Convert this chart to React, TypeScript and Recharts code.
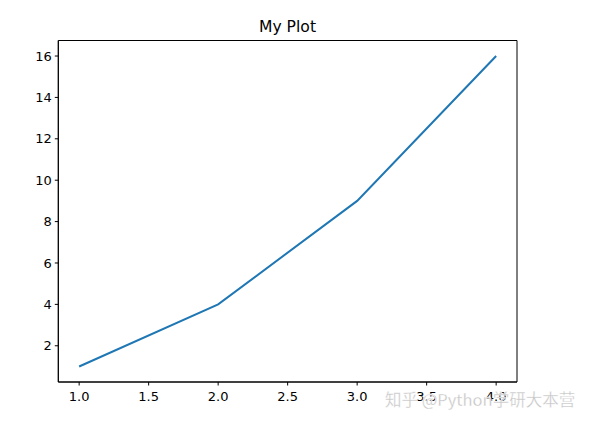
import React from "react";
import { LineChart, Line, XAxis, YAxis, ReferenceArea } from "recharts";

const xValues = [1, 2, 3, 4];
const yValues = [1, 4, 9, 16];
const xTicks = [1.0, 1.5, 2.0, 2.5, 3.0, 3.5, 4.0];
const yTicks = [2, 4, 6, 8, 10, 12, 14, 16];
const title = "My Plot";
const watermark = "知乎 @Python学研大本营";

const data = xValues.map((x, i) => ({ x, y: yValues[i] }));

const FONT = "'DejaVu Sans', sans-serif";
const tickStyle = { fontSize: 13, fill: "#000", fontFamily: FONT };
const X_DOMAIN: [number, number] = [0.85, 4.15];
const Y_DOMAIN: [number, number] = [0.25, 16.75];

export default function App() {
  return (
    <div style={{ position: "absolute", left: 0, top: 0, width: 600, height: 424, background: "#fff" }}>
      <div
        style={{
          position: "absolute",
          left: 187.5,
          width: 200,
          top: 17,
          textAlign: "center",
          fontSize: 15.6,
          lineHeight: "20px",
          fontFamily: FONT,
          color: "#000",
        }}
      >
        {title}
      </div>
      <LineChart
        width={600}
        height={424}
        data={data}
        margin={{ top: 40.5, right: 83, bottom: 0, left: 0 }}
      >
        <XAxis
          dataKey="x"
          type="number"
          domain={X_DOMAIN}
          ticks={xTicks}
          tickFormatter={(v: number) => v.toFixed(1)}
          allowDataOverflow
          stroke="#000"
          tickSize={3.5}
          tickMargin={6}
          tick={tickStyle}
          axisLine={{ stroke: "#000", strokeWidth: 1 }}
          tickLine={{ stroke: "#000" }}
          height={42}
        />
        <YAxis
          type="number"
          domain={Y_DOMAIN}
          ticks={yTicks}
          allowDataOverflow
          stroke="#000"
          tickSize={3.5}
          tickMargin={3}
          tick={tickStyle}
          axisLine={{ stroke: "#000", strokeWidth: 1 }}
          tickLine={{ stroke: "#000" }}
          width={58.3}
        />
        <ReferenceArea
          x1={X_DOMAIN[0]}
          x2={X_DOMAIN[1]}
          y1={Y_DOMAIN[0]}
          y2={Y_DOMAIN[1]}
          fill="none"
          fillOpacity={0}
          stroke="#000"
          strokeWidth={1}
          ifOverflow="visible"
        />
        <Line
          dataKey="y"
          type="linear"
          stroke="#1f77b4"
          strokeWidth={2}
          dot={false}
          activeDot={false}
          isAnimationActive={false}
        />
      </LineChart>
      <div
        style={{
          position: "absolute",
          left: 385,
          top: 389,
          fontSize: 16.5,
          fontFamily: "'Noto Sans CJK SC', 'DejaVu Sans', sans-serif",
          color: "#c4c4c4",
          whiteSpace: "nowrap",
          lineHeight: "20px",
          WebkitTextStroke: "0.3px #fff",
          textShadow: "0 0 1px #fff",
        }}
      >
        {watermark}
      </div>
    </div>
  );
}
